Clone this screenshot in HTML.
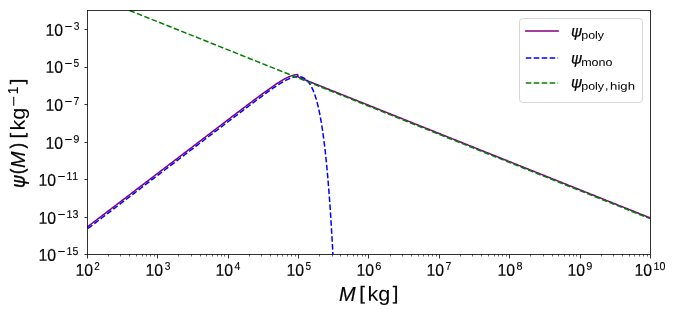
<!DOCTYPE html>
<html><head><meta charset="utf-8"><title>psi(M)</title>
<style>
html,body{margin:0;padding:0;background:#fff;overflow:hidden}
svg{display:block;will-change:transform}
text{font-family:"Liberation Sans",sans-serif;fill:#000;text-rendering:geometricPrecision;font-kerning:none}
</style></head><body>
<svg width="674" height="314" viewBox="0 0 674 314">
<rect width="674" height="314" fill="#fff"/>
<defs><filter id="gs" x="-0.2" y="-0.2" width="1.4" height="1.4"><feOffset dx="0" dy="0"/></filter><clipPath id="ax"><rect x="87.1" y="10.1" width="563.4" height="244.4"/></clipPath></defs>
<g clip-path="url(#ax)" fill="none" stroke-width="1.5" stroke-linejoin="round">
<path d="M86.90,227.27 L87.60,226.73 L88.31,226.20 L89.01,225.66 L89.72,225.12 L90.42,224.59 L91.13,224.05 L91.83,223.51 L92.54,222.98 L93.24,222.44 L93.95,221.90 L94.65,221.36 L95.36,220.83 L96.06,220.29 L96.76,219.75 L97.47,219.22 L98.17,218.68 L98.88,218.14 L99.58,217.61 L100.29,217.07 L100.99,216.53 L101.70,216.00 L102.40,215.46 L103.11,214.92 L103.81,214.38 L104.52,213.85 L105.22,213.31 L105.93,212.77 L106.63,212.24 L107.33,211.70 L108.04,211.16 L108.74,210.63 L109.45,210.09 L110.15,209.55 L110.86,209.02 L111.56,208.48 L112.27,207.94 L112.97,207.40 L113.68,206.87 L114.38,206.33 L115.09,205.79 L115.79,205.26 L116.49,204.72 L117.20,204.18 L117.90,203.65 L118.61,203.11 L119.31,202.57 L120.02,202.04 L120.72,201.50 L121.43,200.96 L122.13,200.42 L122.84,199.89 L123.54,199.35 L124.25,198.81 L124.95,198.28 L125.65,197.74 L126.36,197.20 L127.06,196.67 L127.77,196.13 L128.47,195.59 L129.18,195.05 L129.88,194.52 L130.59,193.98 L131.29,193.44 L132.00,192.91 L132.70,192.37 L133.41,191.83 L134.11,191.30 L134.81,190.76 L135.52,190.22 L136.22,189.69 L136.93,189.15 L137.63,188.61 L138.34,188.07 L139.04,187.54 L139.75,187.00 L140.45,186.46 L141.16,185.93 L141.86,185.39 L142.57,184.85 L143.27,184.32 L143.98,183.78 L144.68,183.24 L145.38,182.71 L146.09,182.17 L146.79,181.63 L147.50,181.09 L148.20,180.56 L148.91,180.02 L149.61,179.48 L150.32,178.95 L151.02,178.41 L151.73,177.87 L152.43,177.34 L153.14,176.80 L153.84,176.26 L154.54,175.73 L155.25,175.19 L155.95,174.65 L156.66,174.11 L157.36,173.58 L158.07,173.04 L158.77,172.50 L159.48,171.97 L160.18,171.43 L160.89,170.89 L161.59,170.36 L162.30,169.82 L163.00,169.28 L163.70,168.75 L164.41,168.21 L165.11,167.67 L165.82,167.13 L166.52,166.60 L167.23,166.06 L167.93,165.52 L168.64,164.99 L169.34,164.45 L170.05,163.91 L170.75,163.38 L171.46,162.84 L172.16,162.30 L172.86,161.76 L173.57,161.23 L174.27,160.69 L174.98,160.15 L175.68,159.62 L176.39,159.08 L177.09,158.54 L177.80,158.01 L178.50,157.47 L179.21,156.93 L179.91,156.40 L180.62,155.86 L181.32,155.32 L182.03,154.78 L182.73,154.25 L183.43,153.71 L184.14,153.17 L184.84,152.64 L185.55,152.10 L186.25,151.56 L186.96,151.03 L187.66,150.49 L188.37,149.95 L189.07,149.42 L189.78,148.88 L190.48,148.34 L191.19,147.80 L191.89,147.27 L192.59,146.73 L193.30,146.19 L194.00,145.66 L194.71,145.12 L195.41,144.58 L196.12,144.05 L196.82,143.51 L197.53,142.97 L198.23,142.44 L198.94,141.90 L199.64,141.36 L200.35,140.83 L201.05,140.29 L201.75,139.75 L202.46,139.21 L203.16,138.68 L203.87,138.14 L204.57,137.60 L205.28,137.07 L205.98,136.53 L206.69,135.99 L207.39,135.46 L208.10,134.92 L208.80,134.38 L209.51,133.85 L210.21,133.31 L210.92,132.77 L211.62,132.24 L212.32,131.70 L213.03,131.16 L213.73,130.63 L214.44,130.09 L215.14,129.55 L215.85,129.02 L216.55,128.48 L217.26,127.94 L217.96,127.41 L218.67,126.87 L219.37,126.33 L220.08,125.80 L220.78,125.26 L221.48,124.72 L222.19,124.19 L222.89,123.65 L223.60,123.11 L224.30,122.58 L225.01,122.04 L225.71,121.50 L226.42,120.97 L227.12,120.43 L227.83,119.90 L228.53,119.36 L229.24,118.82 L229.94,118.29 L230.64,117.75 L231.35,117.22 L232.05,116.68 L232.76,116.14 L233.46,115.61 L234.17,115.07 L234.87,114.54 L235.58,114.00 L236.28,113.47 L236.99,112.93 L237.69,112.40 L238.40,111.86 L239.10,111.33 L239.80,110.79 L240.51,110.26 L241.21,109.72 L241.92,109.19 L242.62,108.65 L243.33,108.12 L244.03,107.59 L244.74,107.05 L245.44,106.52 L246.15,105.99 L246.85,105.45 L247.56,104.92 L248.26,104.39 L248.97,103.86 L249.67,103.33 L250.37,102.80 L251.08,102.27 L251.78,101.74 L252.49,101.21 L253.19,100.68 L253.90,100.15 L254.60,99.62 L255.31,99.09 L256.01,98.57 L256.72,98.04 L257.42,97.52 L258.13,96.99 L258.83,96.47 L259.53,95.95 L260.24,95.42 L260.94,94.90 L261.65,94.38 L262.35,93.86 L263.06,93.35 L263.76,92.83 L264.47,92.32 L265.17,91.80 L265.88,91.29 L266.58,90.78 L267.29,90.28 L267.99,89.77 L268.69,89.27 L269.40,88.77 L270.10,88.27 L270.81,87.77 L271.51,87.28 L272.22,86.79 L272.92,86.30 L273.63,85.82 L274.33,85.34 L275.04,84.86 L275.74,84.39 L276.45,83.92 L277.15,83.46 L277.85,83.00 L278.56,82.55 L279.26,82.10 L279.97,81.66 L280.67,81.22 L281.38,80.80 L282.08,80.38 L282.79,79.96 L283.49,79.56 L284.20,79.17 L284.90,78.78 L285.61,78.41 L286.31,78.05 L287.02,77.69 L287.72,77.36 L288.42,77.03 L289.13,76.72 L289.83,76.42 L290.54,76.15 L291.24,75.88 L291.95,75.64 L292.65,75.42 L293.36,75.22 L294.06,75.04 L294.77,74.89 L295.47,74.76 L296.18,74.66 L296.88,74.59 L297.58,74.55 L298.29,77.13 L298.99,77.41 L299.70,77.69 L300.40,77.98 L301.11,78.26 L301.81,78.54 L302.52,78.82 L303.22,79.10 L303.93,79.39 L304.63,79.67 L305.34,79.95 L306.04,80.23 L306.74,80.51 L307.45,80.79 L308.15,81.08 L308.86,81.36 L309.56,81.64 L310.27,81.92 L310.97,82.20 L311.68,82.49 L312.38,82.77 L313.09,83.05 L313.79,83.33 L314.50,83.61 L315.20,83.90 L315.91,84.18 L316.61,84.46 L317.31,84.74 L318.02,85.02 L318.72,85.31 L319.43,85.59 L320.13,85.87 L320.84,86.15 L321.54,86.43 L322.25,86.71 L322.95,87.00 L323.66,87.28 L324.36,87.56 L325.07,87.84 L325.77,88.12 L326.47,88.41 L327.18,88.69 L327.88,88.97 L328.59,89.25 L329.29,89.53 L330.00,89.82 L330.70,90.10 L331.41,90.38 L332.11,90.66 L332.82,90.94 L333.52,91.22 L334.23,91.51 L334.93,91.79 L335.63,92.07 L336.34,92.35 L337.04,92.63 L337.75,92.92 L338.45,93.20 L339.16,93.48 L339.86,93.76 L340.57,94.04 L341.27,94.33 L341.98,94.61 L342.68,94.89 L343.39,95.17 L344.09,95.45 L344.79,95.74 L345.50,96.02 L346.20,96.30 L346.91,96.58 L347.61,96.86 L348.32,97.14 L349.02,97.43 L349.73,97.71 L350.43,97.99 L351.14,98.27 L351.84,98.55 L352.55,98.84 L353.25,99.12 L353.96,99.40 L354.66,99.68 L355.36,99.96 L356.07,100.25 L356.77,100.53 L357.48,100.81 L358.18,101.09 L358.89,101.37 L359.59,101.65 L360.30,101.94 L361.00,102.22 L361.71,102.50 L362.41,102.78 L363.12,103.06 L363.82,103.35 L364.52,103.63 L365.23,103.91 L365.93,104.19 L366.64,104.47 L367.34,104.76 L368.05,105.04 L368.75,105.32 L369.46,105.60 L370.16,105.88 L370.87,106.17 L371.57,106.45 L372.28,106.73 L372.98,107.01 L373.68,107.29 L374.39,107.57 L375.09,107.86 L375.80,108.14 L376.50,108.42 L377.21,108.70 L377.91,108.98 L378.62,109.27 L379.32,109.55 L380.03,109.83 L380.73,110.11 L381.44,110.39 L382.14,110.68 L382.84,110.96 L383.55,111.24 L384.25,111.52 L384.96,111.80 L385.66,112.08 L386.37,112.37 L387.07,112.65 L387.78,112.93 L388.48,113.21 L389.19,113.49 L389.89,113.78 L390.60,114.06 L391.30,114.34 L392.01,114.62 L392.71,114.90 L393.41,115.19 L394.12,115.47 L394.82,115.75 L395.53,116.03 L396.23,116.31 L396.94,116.60 L397.64,116.88 L398.35,117.16 L399.05,117.44 L399.76,117.72 L400.46,118.00 L401.17,118.29 L401.87,118.57 L402.57,118.85 L403.28,119.13 L403.98,119.41 L404.69,119.70 L405.39,119.98 L406.10,120.26 L406.80,120.54 L407.51,120.82 L408.21,121.11 L408.92,121.39 L409.62,121.67 L410.33,121.95 L411.03,122.23 L411.73,122.51 L412.44,122.80 L413.14,123.08 L413.85,123.36 L414.55,123.64 L415.26,123.92 L415.96,124.21 L416.67,124.49 L417.37,124.77 L418.08,125.05 L418.78,125.33 L419.49,125.62 L420.19,125.90 L420.89,126.18 L421.60,126.46 L422.30,126.74 L423.01,127.03 L423.71,127.31 L424.42,127.59 L425.12,127.87 L425.83,128.15 L426.53,128.43 L427.24,128.72 L427.94,129.00 L428.65,129.28 L429.35,129.56 L430.06,129.84 L430.76,130.13 L431.46,130.41 L432.17,130.69 L432.87,130.97 L433.58,131.25 L434.28,131.54 L434.99,131.82 L435.69,132.10 L436.40,132.38 L437.10,132.66 L437.81,132.94 L438.51,133.23 L439.22,133.51 L439.92,133.79 L440.62,134.07 L441.33,134.35 L442.03,134.64 L442.74,134.92 L443.44,135.20 L444.15,135.48 L444.85,135.76 L445.56,136.05 L446.26,136.33 L446.97,136.61 L447.67,136.89 L448.38,137.17 L449.08,137.45 L449.78,137.74 L450.49,138.02 L451.19,138.30 L451.90,138.58 L452.60,138.86 L453.31,139.15 L454.01,139.43 L454.72,139.71 L455.42,139.99 L456.13,140.27 L456.83,140.56 L457.54,140.84 L458.24,141.12 L458.95,141.40 L459.65,141.68 L460.35,141.97 L461.06,142.25 L461.76,142.53 L462.47,142.81 L463.17,143.09 L463.88,143.37 L464.58,143.66 L465.29,143.94 L465.99,144.22 L466.70,144.50 L467.40,144.78 L468.11,145.07 L468.81,145.35 L469.51,145.63 L470.22,145.91 L470.92,146.19 L471.63,146.48 L472.33,146.76 L473.04,147.04 L473.74,147.32 L474.45,147.60 L475.15,147.88 L475.86,148.17 L476.56,148.45 L477.27,148.73 L477.97,149.01 L478.67,149.29 L479.38,149.58 L480.08,149.86 L480.79,150.14 L481.49,150.42 L482.20,150.70 L482.90,150.99 L483.61,151.27 L484.31,151.55 L485.02,151.83 L485.72,152.11 L486.43,152.40 L487.13,152.68 L487.83,152.96 L488.54,153.24 L489.24,153.52 L489.95,153.80 L490.65,154.09 L491.36,154.37 L492.06,154.65 L492.77,154.93 L493.47,155.21 L494.18,155.50 L494.88,155.78 L495.59,156.06 L496.29,156.34 L497.00,156.62 L497.70,156.91 L498.40,157.19 L499.11,157.47 L499.81,157.75 L500.52,158.03 L501.22,158.31 L501.93,158.60 L502.63,158.88 L503.34,159.16 L504.04,159.44 L504.75,159.72 L505.45,160.01 L506.16,160.29 L506.86,160.57 L507.56,160.85 L508.27,161.13 L508.97,161.42 L509.68,161.70 L510.38,161.98 L511.09,162.26 L511.79,162.54 L512.50,162.83 L513.20,163.11 L513.91,163.39 L514.61,163.67 L515.32,163.95 L516.02,164.23 L516.72,164.52 L517.43,164.80 L518.13,165.08 L518.84,165.36 L519.54,165.64 L520.25,165.93 L520.95,166.21 L521.66,166.49 L522.36,166.77 L523.07,167.05 L523.77,167.34 L524.48,167.62 L525.18,167.90 L525.88,168.18 L526.59,168.46 L527.29,168.74 L528.00,169.03 L528.70,169.31 L529.41,169.59 L530.11,169.87 L530.82,170.15 L531.52,170.44 L532.23,170.72 L532.93,171.00 L533.64,171.28 L534.34,171.56 L535.05,171.85 L535.75,172.13 L536.45,172.41 L537.16,172.69 L537.86,172.97 L538.57,173.26 L539.27,173.54 L539.98,173.82 L540.68,174.10 L541.39,174.38 L542.09,174.66 L542.80,174.95 L543.50,175.23 L544.21,175.51 L544.91,175.79 L545.61,176.07 L546.32,176.36 L547.02,176.64 L547.73,176.92 L548.43,177.20 L549.14,177.48 L549.84,177.77 L550.55,178.05 L551.25,178.33 L551.96,178.61 L552.66,178.89 L553.37,179.17 L554.07,179.46 L554.77,179.74 L555.48,180.02 L556.18,180.30 L556.89,180.58 L557.59,180.87 L558.30,181.15 L559.00,181.43 L559.71,181.71 L560.41,181.99 L561.12,182.28 L561.82,182.56 L562.53,182.84 L563.23,183.12 L563.94,183.40 L564.64,183.69 L565.34,183.97 L566.05,184.25 L566.75,184.53 L567.46,184.81 L568.16,185.09 L568.87,185.38 L569.57,185.66 L570.28,185.94 L570.98,186.22 L571.69,186.50 L572.39,186.79 L573.10,187.07 L573.80,187.35 L574.50,187.63 L575.21,187.91 L575.91,188.20 L576.62,188.48 L577.32,188.76 L578.03,189.04 L578.73,189.32 L579.44,189.60 L580.14,189.89 L580.85,190.17 L581.55,190.45 L582.26,190.73 L582.96,191.01 L583.66,191.30 L584.37,191.58 L585.07,191.86 L585.78,192.14 L586.48,192.42 L587.19,192.71 L587.89,192.99 L588.60,193.27 L589.30,193.55 L590.01,193.83 L590.71,194.12 L591.42,194.40 L592.12,194.68 L592.82,194.96 L593.53,195.24 L594.23,195.52 L594.94,195.81 L595.64,196.09 L596.35,196.37 L597.05,196.65 L597.76,196.93 L598.46,197.22 L599.17,197.50 L599.87,197.78 L600.58,198.06 L601.28,198.34 L601.99,198.63 L602.69,198.91 L603.39,199.19 L604.10,199.47 L604.80,199.75 L605.51,200.03 L606.21,200.32 L606.92,200.60 L607.62,200.88 L608.33,201.16 L609.03,201.44 L609.74,201.73 L610.44,202.01 L611.15,202.29 L611.85,202.57 L612.55,202.85 L613.26,203.14 L613.96,203.42 L614.67,203.70 L615.37,203.98 L616.08,204.26 L616.78,204.54 L617.49,204.83 L618.19,205.11 L618.90,205.39 L619.60,205.67 L620.31,205.95 L621.01,206.24 L621.71,206.52 L622.42,206.80 L623.12,207.08 L623.83,207.36 L624.53,207.65 L625.24,207.93 L625.94,208.21 L626.65,208.49 L627.35,208.77 L628.06,209.06 L628.76,209.34 L629.47,209.62 L630.17,209.90 L630.87,210.18 L631.58,210.46 L632.28,210.75 L632.99,211.03 L633.69,211.31 L634.40,211.59 L635.10,211.87 L635.81,212.16 L636.51,212.44 L637.22,212.72 L637.92,213.00 L638.63,213.28 L639.33,213.57 L640.04,213.85 L640.74,214.13 L641.44,214.41 L642.15,214.69 L642.85,214.97 L643.56,215.26 L644.26,215.54 L644.97,215.82 L645.67,216.10 L646.38,216.38 L647.08,216.67 L647.79,216.95 L648.49,217.23 L649.20,217.51 L649.90,217.79" stroke="#800080" stroke-linecap="square"/>
<path d="M86.90,229.28 L87.25,229.01 L87.60,228.74 L87.96,228.47 L88.31,228.21 L88.66,227.94 L89.01,227.67 L89.36,227.40 L89.72,227.13 L90.07,226.87 L90.42,226.60 L90.77,226.33 L91.12,226.06 L91.47,225.79 L91.83,225.53 L92.18,225.26 L92.53,224.99 L92.88,224.72 L93.23,224.45 L93.59,224.18 L93.94,223.92 L94.29,223.65 L94.64,223.38 L94.99,223.11 L95.35,222.84 L95.70,222.58 L96.05,222.31 L96.40,222.04 L96.75,221.77 L97.10,221.50 L97.46,221.24 L97.81,220.97 L98.16,220.70 L98.51,220.43 L98.86,220.16 L99.22,219.89 L99.57,219.63 L99.92,219.36 L100.27,219.09 L100.62,218.82 L100.98,218.55 L101.33,218.29 L101.68,218.02 L102.03,217.75 L102.38,217.48 L102.73,217.21 L103.09,216.95 L103.44,216.68 L103.79,216.41 L104.14,216.14 L104.49,215.87 L104.85,215.60 L105.20,215.34 L105.55,215.07 L105.90,214.80 L106.25,214.53 L106.61,214.26 L106.96,214.00 L107.31,213.73 L107.66,213.46 L108.01,213.19 L108.36,212.92 L108.72,212.66 L109.07,212.39 L109.42,212.12 L109.77,211.85 L110.12,211.58 L110.48,211.31 L110.83,211.05 L111.18,210.78 L111.53,210.51 L111.88,210.24 L112.23,209.97 L112.59,209.71 L112.94,209.44 L113.29,209.17 L113.64,208.90 L113.99,208.63 L114.35,208.36 L114.70,208.10 L115.05,207.83 L115.40,207.56 L115.75,207.29 L116.11,207.02 L116.46,206.76 L116.81,206.49 L117.16,206.22 L117.51,205.95 L117.87,205.68 L118.22,205.42 L118.57,205.15 L118.92,204.88 L119.27,204.61 L119.62,204.34 L119.98,204.07 L120.33,203.81 L120.68,203.54 L121.03,203.27 L121.38,203.00 L121.74,202.73 L122.09,202.47 L122.44,202.20 L122.79,201.93 L123.14,201.66 L123.50,201.39 L123.85,201.13 L124.20,200.86 L124.55,200.59 L124.90,200.32 L125.25,200.05 L125.61,199.78 L125.96,199.52 L126.31,199.25 L126.66,198.98 L127.01,198.71 L127.37,198.44 L127.72,198.18 L128.07,197.91 L128.42,197.64 L128.77,197.37 L129.12,197.10 L129.48,196.84 L129.83,196.57 L130.18,196.30 L130.53,196.03 L130.88,195.76 L131.24,195.49 L131.59,195.23 L131.94,194.96 L132.29,194.69 L132.64,194.42 L133.00,194.15 L133.35,193.89 L133.70,193.62 L134.05,193.35 L134.40,193.08 L134.76,192.81 L135.11,192.55 L135.46,192.28 L135.81,192.01 L136.16,191.74 L136.51,191.47 L136.87,191.20 L137.22,190.94 L137.57,190.67 L137.92,190.40 L138.27,190.13 L138.63,189.86 L138.98,189.60 L139.33,189.33 L139.68,189.06 L140.03,188.79 L140.38,188.52 L140.74,188.26 L141.09,187.99 L141.44,187.72 L141.79,187.45 L142.14,187.18 L142.50,186.91 L142.85,186.65 L143.20,186.38 L143.55,186.11 L143.90,185.84 L144.26,185.57 L144.61,185.31 L144.96,185.04 L145.31,184.77 L145.66,184.50 L146.01,184.23 L146.37,183.96 L146.72,183.70 L147.07,183.43 L147.42,183.16 L147.77,182.89 L148.13,182.62 L148.48,182.36 L148.83,182.09 L149.18,181.82 L149.53,181.55 L149.89,181.28 L150.24,181.02 L150.59,180.75 L150.94,180.48 L151.29,180.21 L151.64,179.94 L152.00,179.67 L152.35,179.41 L152.70,179.14 L153.05,178.87 L153.40,178.60 L153.76,178.33 L154.11,178.07 L154.46,177.80 L154.81,177.53 L155.16,177.26 L155.52,176.99 L155.87,176.73 L156.22,176.46 L156.57,176.19 L156.92,175.92 L157.28,175.65 L157.63,175.38 L157.98,175.12 L158.33,174.85 L158.68,174.58 L159.03,174.31 L159.39,174.04 L159.74,173.78 L160.09,173.51 L160.44,173.24 L160.79,172.97 L161.15,172.70 L161.50,172.44 L161.85,172.17 L162.20,171.90 L162.55,171.63 L162.91,171.36 L163.26,171.09 L163.61,170.83 L163.96,170.56 L164.31,170.29 L164.66,170.02 L165.02,169.75 L165.37,169.49 L165.72,169.22 L166.07,168.95 L166.42,168.68 L166.78,168.41 L167.13,168.15 L167.48,167.88 L167.83,167.61 L168.18,167.34 L168.54,167.07 L168.89,166.80 L169.24,166.54 L169.59,166.27 L169.94,166.00 L170.29,165.73 L170.65,165.46 L171.00,165.20 L171.35,164.93 L171.70,164.66 L172.05,164.39 L172.41,164.12 L172.76,163.86 L173.11,163.59 L173.46,163.32 L173.81,163.05 L174.17,162.78 L174.52,162.51 L174.87,162.25 L175.22,161.98 L175.57,161.71 L175.92,161.44 L176.28,161.17 L176.63,160.91 L176.98,160.64 L177.33,160.37 L177.68,160.10 L178.04,159.83 L178.39,159.57 L178.74,159.30 L179.09,159.03 L179.44,158.76 L179.80,158.49 L180.15,158.22 L180.50,157.96 L180.85,157.69 L181.20,157.42 L181.55,157.15 L181.91,156.88 L182.26,156.62 L182.61,156.35 L182.96,156.08 L183.31,155.81 L183.67,155.54 L184.02,155.28 L184.37,155.01 L184.72,154.74 L185.07,154.47 L185.43,154.20 L185.78,153.93 L186.13,153.67 L186.48,153.40 L186.83,153.13 L187.18,152.86 L187.54,152.59 L187.89,152.33 L188.24,152.06 L188.59,151.79 L188.94,151.52 L189.30,151.25 L189.65,150.99 L190.00,150.72 L190.35,150.45 L190.70,150.18 L191.06,149.91 L191.41,149.64 L191.76,149.38 L192.11,149.11 L192.46,148.84 L192.81,148.57 L193.17,148.30 L193.52,148.04 L193.87,147.77 L194.22,147.50 L194.57,147.23 L194.93,146.96 L195.28,146.70 L195.63,146.43 L195.98,146.16 L196.33,145.89 L196.69,145.62 L197.04,145.35 L197.39,145.09 L197.74,144.82 L198.09,144.55 L198.44,144.28 L198.80,144.01 L199.15,143.75 L199.50,143.48 L199.85,143.21 L200.20,142.94 L200.56,142.67 L200.91,142.41 L201.26,142.14 L201.61,141.87 L201.96,141.60 L202.31,141.33 L202.67,141.06 L203.02,140.80 L203.37,140.53 L203.72,140.26 L204.07,139.99 L204.43,139.72 L204.78,139.46 L205.13,139.19 L205.48,138.92 L205.83,138.65 L206.19,138.38 L206.54,138.12 L206.89,137.85 L207.24,137.58 L207.59,137.31 L207.94,137.04 L208.30,136.78 L208.65,136.51 L209.00,136.24 L209.35,135.97 L209.70,135.70 L210.06,135.44 L210.41,135.17 L210.76,134.90 L211.11,134.63 L211.46,134.36 L211.82,134.10 L212.17,133.83 L212.52,133.56 L212.87,133.29 L213.22,133.02 L213.57,132.75 L213.93,132.49 L214.28,132.22 L214.63,131.95 L214.98,131.68 L215.33,131.41 L215.69,131.15 L216.04,130.88 L216.39,130.61 L216.74,130.34 L217.09,130.07 L217.45,129.81 L217.80,129.54 L218.15,129.27 L218.50,129.00 L218.85,128.73 L219.20,128.47 L219.56,128.20 L219.91,127.93 L220.26,127.66 L220.61,127.40 L220.96,127.13 L221.32,126.86 L221.67,126.59 L222.02,126.32 L222.37,126.06 L222.72,125.79 L223.08,125.52 L223.43,125.25 L223.78,124.98 L224.13,124.72 L224.48,124.45 L224.84,124.18 L225.19,123.91 L225.54,123.64 L225.89,123.38 L226.24,123.11 L226.59,122.84 L226.95,122.57 L227.30,122.31 L227.65,122.04 L228.00,121.77 L228.35,121.50 L228.71,121.23 L229.06,120.97 L229.41,120.70 L229.76,120.43 L230.11,120.16 L230.47,119.90 L230.82,119.63 L231.17,119.36 L231.52,119.09 L231.87,118.83 L232.22,118.56 L232.58,118.29 L232.93,118.02 L233.28,117.76 L233.63,117.49 L233.98,117.22 L234.34,116.95 L234.69,116.69 L235.04,116.42 L235.39,116.15 L235.74,115.88 L236.10,115.62 L236.45,115.35 L236.80,115.08 L237.15,114.81 L237.50,114.55 L237.85,114.28 L238.21,114.01 L238.56,113.75 L238.91,113.48 L239.26,113.21 L239.61,112.94 L239.97,112.68 L240.32,112.41 L240.67,112.14 L241.02,111.88 L241.37,111.61 L241.73,111.34 L242.08,111.08 L242.43,110.81 L242.78,110.54 L243.13,110.28 L243.48,110.01 L243.84,109.74 L244.19,109.48 L244.54,109.21 L244.89,108.94 L245.24,108.68 L245.60,108.41 L245.95,108.15 L246.30,107.88 L246.65,107.61 L247.00,107.35 L247.36,107.08 L247.71,106.82 L248.06,106.55 L248.41,106.29 L248.76,106.02 L249.11,105.75 L249.47,105.49 L249.82,105.22 L250.17,104.96 L250.52,104.69 L250.87,104.43 L251.23,104.16 L251.58,103.90 L251.93,103.64 L252.28,103.37 L252.63,103.11 L252.98,102.84 L253.34,102.58 L253.69,102.31 L254.04,102.05 L254.39,101.79 L254.74,101.52 L255.10,101.26 L255.45,101.00 L255.80,100.73 L256.15,100.47 L256.50,100.21 L256.86,99.95 L257.21,99.68 L257.56,99.42 L257.91,99.16 L258.26,98.90 L258.62,98.64 L258.97,98.37 L259.32,98.11 L259.67,97.85 L260.02,97.59 L260.37,97.33 L260.73,97.07 L261.08,96.81 L261.43,96.55 L261.78,96.29 L262.13,96.03 L262.49,95.78 L262.84,95.52 L263.19,95.26 L263.54,95.00 L263.89,94.74 L264.25,94.49 L264.60,94.23 L264.95,93.97 L265.30,93.72 L265.65,93.46 L266.00,93.21 L266.36,92.95 L266.71,92.70 L267.06,92.45 L267.41,92.19 L267.76,91.94 L268.12,91.69 L268.47,91.44 L268.82,91.19 L269.17,90.94 L269.52,90.69 L269.88,90.44 L270.23,90.19 L270.58,89.94 L270.93,89.69 L271.28,89.45 L271.63,89.20 L271.99,88.96 L272.34,88.71 L272.69,88.47 L273.04,88.23 L273.39,87.98 L273.75,87.74 L274.10,87.50 L274.45,87.26 L274.80,87.03 L275.15,86.79 L275.50,86.55 L275.86,86.32 L276.21,86.08 L276.56,85.85 L276.91,85.62 L277.26,85.39 L277.62,85.16 L277.97,84.93 L278.32,84.71 L278.67,84.48 L279.02,84.26 L279.38,84.04 L279.73,83.82 L280.08,83.60 L280.43,83.38 L280.78,83.17 L281.13,82.95 L281.49,82.74 L281.84,82.53 L282.19,82.32 L282.54,82.12 L282.89,81.91 L283.25,81.71 L283.60,81.51 L283.95,81.31 L284.30,81.12 L284.65,80.92 L285.01,80.73 L285.36,80.55 L285.71,80.36 L286.06,80.18 L286.41,80.00 L286.76,79.83 L287.12,79.65 L287.47,79.48 L287.82,79.32 L288.17,79.15 L288.52,78.99 L288.88,78.84 L289.23,78.69 L289.58,78.54 L289.93,78.39 L290.28,78.25 L290.64,78.12 L290.99,77.98 L291.34,77.86 L291.69,77.74 L292.04,77.62 L292.39,77.51 L292.75,77.40 L293.10,77.30 L293.45,77.20 L293.80,77.11 L294.15,77.03 L294.51,76.95 L294.86,76.88 L295.21,76.81 L295.56,76.75 L295.91,76.70 L296.27,76.66 L296.62,76.62 L296.97,76.59 L297.32,76.57 L297.67,76.56 L298.02,76.55 L298.38,76.56 L298.73,76.57 L299.08,76.59 L299.43,76.63 L299.78,76.67 L300.14,76.72 L300.49,76.79 L300.84,76.86 L301.19,76.95 L301.54,77.05 L301.90,77.16 L302.25,77.28 L302.60,77.42 L302.95,77.57 L303.30,77.73 L303.65,77.91 L304.01,78.10 L304.36,78.31 L304.71,78.53 L305.06,78.78 L305.41,79.03 L305.77,79.31 L306.12,79.60 L306.47,79.92 L306.82,80.25 L307.17,80.60 L307.53,80.97 L307.88,81.37 L308.23,81.78 L308.58,82.22 L308.93,82.69 L309.29,83.17 L309.64,83.69 L309.99,84.23 L310.34,84.79 L310.69,85.39 L311.04,86.01 L311.40,86.66 L311.75,87.34 L312.10,88.06 L312.45,88.81 L312.80,89.59 L313.16,90.41 L313.51,91.26 L313.86,92.15 L314.21,93.08 L314.56,94.05 L314.92,95.06 L315.27,96.12 L315.62,97.21 L315.97,98.36 L316.32,99.55 L316.67,100.79 L317.03,102.08 L317.38,103.42 L317.73,104.82 L318.08,106.27 L318.43,107.78 L318.79,109.35 L319.14,110.98 L319.49,112.67 L319.84,114.43 L320.19,116.26 L320.55,118.15 L320.90,120.12 L321.25,122.17 L321.60,124.29 L321.95,126.49 L322.30,128.78 L322.66,131.14 L323.01,133.60 L323.36,136.15 L323.71,138.79 L324.06,141.53 L324.42,144.38 L324.77,147.32 L325.12,150.37 L325.47,153.54 L325.82,156.82 L326.18,160.21 L326.53,163.73 L326.88,167.38 L327.23,171.16 L327.58,175.07 L327.93,179.12 L328.29,183.32 L328.64,187.66 L328.99,192.16 L329.34,196.82 L329.69,201.65 L330.05,206.64 L330.40,211.81 L330.75,217.16 L331.10,222.71 L331.45,228.44 L331.81,234.38 L332.16,240.52 L332.51,246.88 L332.86,253.46 L333.21,260.26" stroke="#0000ff" stroke-dasharray="5.55 2.4" stroke-dashoffset="-1.4"/>
<path d="M129.13,10.30 L649.90,218.64" stroke="#008000" stroke-dasharray="5.55 2.4" stroke-dashoffset="-0.45"/>
</g>
<g stroke="#000" fill="none">
<rect x="87.5" y="10.5" width="563" height="244" stroke-width="0.8"/>
<path d="M87.5,254.5v4M157.5,254.5v4M228.5,254.5v4M298.5,254.5v4M368.5,254.5v4M439.5,254.5v4M509.5,254.5v4M580.5,254.5v4M650.5,254.5v4M87.5,29.5h-3M87.5,67.5h-3M87.5,104.5h-3M87.5,142.5h-3M87.5,179.5h-3M87.5,217.5h-3M87.5,254.5h-3" stroke-width="0.8"/>
<path d="M108.5,254.5v2M120.5,254.5v2M129.5,254.5v2M136.5,254.5v2M142.5,254.5v2M146.5,254.5v2M150.5,254.5v2M154.5,254.5v2M178.5,254.5v2M191.5,254.5v2M200.5,254.5v2M206.5,254.5v2M212.5,254.5v2M217.5,254.5v2M221.5,254.5v2M224.5,254.5v2M249.5,254.5v2M261.5,254.5v2M270.5,254.5v2M277.5,254.5v2M282.5,254.5v2M287.5,254.5v2M291.5,254.5v2M295.5,254.5v2M319.5,254.5v2M332.5,254.5v2M340.5,254.5v2M347.5,254.5v2M353.5,254.5v2M357.5,254.5v2M362.5,254.5v2M365.5,254.5v2M390.5,254.5v2M402.5,254.5v2M411.5,254.5v2M418.5,254.5v2M423.5,254.5v2M428.5,254.5v2M432.5,254.5v2M436.5,254.5v2M460.5,254.5v2M472.5,254.5v2M481.5,254.5v2M488.5,254.5v2M494.5,254.5v2M498.5,254.5v2M502.5,254.5v2M506.5,254.5v2M530.5,254.5v2M543.5,254.5v2M552.5,254.5v2M558.5,254.5v2M564.5,254.5v2M569.5,254.5v2M573.5,254.5v2M576.5,254.5v2M601.5,254.5v2M613.5,254.5v2M622.5,254.5v2M629.5,254.5v2M634.5,254.5v2M639.5,254.5v2M643.5,254.5v2M647.5,254.5v2" stroke-width="0.6"/>
</g>
<g filter="url(#gs)">
<text transform="matrix(1.5816 0.0006 0 1.6949 45.575 35.834)" font-size="10" stroke="#000" stroke-width="0.1" vector-effect="non-scaling-stroke">10</text>
<text transform="matrix(1.3605 0.0006 0 1.2905 64.449 30.791)" font-size="10">−</text>
<text transform="matrix(1.0229 0.0006 0 1.1003 73.660 29.793)" font-size="10" stroke="#000" stroke-width="0.1" vector-effect="non-scaling-stroke">3</text>
<text transform="matrix(1.5816 0.0006 0 1.6949 45.575 72.834)" font-size="10" stroke="#000" stroke-width="0.1" vector-effect="non-scaling-stroke">10</text>
<text transform="matrix(1.3605 0.0006 0 1.2905 64.449 67.791)" font-size="10">−</text>
<text transform="matrix(1.0124 0.0006 0 1.1222 73.585 66.790)" font-size="10" stroke="#000" stroke-width="0.1" vector-effect="non-scaling-stroke">5</text>
<text transform="matrix(1.5816 0.0006 0 1.6949 45.575 110.834)" font-size="10" stroke="#000" stroke-width="0.1" vector-effect="non-scaling-stroke">10</text>
<text transform="matrix(1.3605 0.0006 0 1.2905 64.449 105.791)" font-size="10">−</text>
<text transform="matrix(1.0427 0.0006 0 1.1483 73.495 104.950)" font-size="10" stroke="#000" stroke-width="0.1" vector-effect="non-scaling-stroke">7</text>
<text transform="matrix(1.5816 0.0006 0 1.6949 45.575 148.834)" font-size="10" stroke="#000" stroke-width="0.1" vector-effect="non-scaling-stroke">10</text>
<text transform="matrix(1.3605 0.0006 0 1.2905 64.449 143.791)" font-size="10">−</text>
<text transform="matrix(1.1019 0.0006 0 1.1031 73.283 142.802)" font-size="10" stroke="#000" stroke-width="0.1" vector-effect="non-scaling-stroke">9</text>
<text transform="matrix(1.5816 0.0006 0 1.6949 38.575 185.834)" font-size="10" stroke="#000" stroke-width="0.1" vector-effect="non-scaling-stroke">10</text>
<text transform="matrix(1.3605 0.0006 0 1.2905 57.449 180.791)" font-size="10">−</text>
<text transform="matrix(1.0493 0.0006 0 1.1628 66.521 180.000)" font-size="10" stroke="#000" stroke-width="0.1" vector-effect="non-scaling-stroke">11</text>
<text transform="matrix(1.5816 0.0006 0 1.6949 38.575 223.834)" font-size="10" stroke="#000" stroke-width="0.1" vector-effect="non-scaling-stroke">10</text>
<text transform="matrix(1.3605 0.0006 0 1.2905 57.449 218.791)" font-size="10">−</text>
<text transform="matrix(1.0663 0.0006 0 1.1299 66.508 217.890)" font-size="10" stroke="#000" stroke-width="0.1" vector-effect="non-scaling-stroke">13</text>
<text transform="matrix(1.5816 0.0006 0 1.6949 38.575 260.834)" font-size="10" stroke="#000" stroke-width="0.1" vector-effect="non-scaling-stroke">10</text>
<text transform="matrix(1.3605 0.0006 0 1.2905 57.449 255.791)" font-size="10">−</text>
<text transform="matrix(1.0532 0.0006 0 1.1465 66.518 254.888)" font-size="10" stroke="#000" stroke-width="0.1" vector-effect="non-scaling-stroke">15</text>
<text transform="matrix(1.5816 0.0006 0 1.6949 75.575 275.834)" font-size="10" stroke="#000" stroke-width="0.1" vector-effect="non-scaling-stroke">10</text>
<text transform="matrix(0.9922 0.0006 0 1.1328 94.351 270.000)" font-size="10" stroke="#000" stroke-width="0.1" vector-effect="non-scaling-stroke">2</text>
<text transform="matrix(1.5816 0.0006 0 1.6949 145.575 275.834)" font-size="10" stroke="#000" stroke-width="0.1" vector-effect="non-scaling-stroke">10</text>
<text transform="matrix(1.0229 0.0006 0 1.1003 164.660 269.793)" font-size="10" stroke="#000" stroke-width="0.1" vector-effect="non-scaling-stroke">3</text>
<text transform="matrix(1.5816 0.0006 0 1.6949 215.575 275.834)" font-size="10" stroke="#000" stroke-width="0.1" vector-effect="non-scaling-stroke">10</text>
<text transform="matrix(1.0518 0.0006 0 1.1628 234.439 270.000)" font-size="10" stroke="#000" stroke-width="0.1" vector-effect="non-scaling-stroke">4</text>
<text transform="matrix(1.5816 0.0006 0 1.6949 286.575 275.834)" font-size="10" stroke="#000" stroke-width="0.1" vector-effect="non-scaling-stroke">10</text>
<text transform="matrix(1.0124 0.0006 0 1.1222 305.585 269.790)" font-size="10" stroke="#000" stroke-width="0.1" vector-effect="non-scaling-stroke">5</text>
<text transform="matrix(1.5816 0.0006 0 1.6949 356.575 275.834)" font-size="10" stroke="#000" stroke-width="0.1" vector-effect="non-scaling-stroke">10</text>
<text transform="matrix(1.1053 0.0006 0 1.1017 375.319 269.782)" font-size="10" stroke="#000" stroke-width="0.1" vector-effect="non-scaling-stroke">6</text>
<text transform="matrix(1.5816 0.0006 0 1.6949 426.575 275.834)" font-size="10" stroke="#000" stroke-width="0.1" vector-effect="non-scaling-stroke">10</text>
<text transform="matrix(1.0427 0.0006 0 1.1483 445.495 269.950)" font-size="10" stroke="#000" stroke-width="0.1" vector-effect="non-scaling-stroke">7</text>
<text transform="matrix(1.5816 0.0006 0 1.6949 497.575 275.834)" font-size="10" stroke="#000" stroke-width="0.1" vector-effect="non-scaling-stroke">10</text>
<text transform="matrix(1.0805 0.0006 0 1.1003 516.440 269.793)" font-size="10" stroke="#000" stroke-width="0.1" vector-effect="non-scaling-stroke">8</text>
<text transform="matrix(1.5816 0.0006 0 1.6949 567.575 275.834)" font-size="10" stroke="#000" stroke-width="0.1" vector-effect="non-scaling-stroke">10</text>
<text transform="matrix(1.1019 0.0006 0 1.1031 586.283 269.802)" font-size="10" stroke="#000" stroke-width="0.1" vector-effect="non-scaling-stroke">9</text>
<text transform="matrix(1.5816 0.0006 0 1.6949 634.575 275.834)" font-size="10" stroke="#000" stroke-width="0.1" vector-effect="non-scaling-stroke">10</text>
<text transform="matrix(1.0691 0.0006 0 1.1299 653.506 269.890)" font-size="10" stroke="#000" stroke-width="0.1" vector-effect="non-scaling-stroke">10</text>
<text transform="matrix(1.9919 0.0006 0 2.0349 339.097 301.000)" font-size="10" font-style="italic" stroke="#000" stroke-width="0.1" vector-effect="non-scaling-stroke">M</text>
<text transform="matrix(2.0530 0.0006 0 1.8774 359.366 299.604)" font-size="10" stroke="#000" stroke-width="0.1" vector-effect="non-scaling-stroke">[</text>
<text transform="matrix(2.1638 0.0006 0 2.0373 367.472 300.762)" font-size="10">kg</text>
<text transform="matrix(2.0329 0.0006 0 1.8774 392.801 299.604)" font-size="10" stroke="#000" stroke-width="0.1" vector-effect="non-scaling-stroke">]</text>
</g>
<g transform="rotate(-90)" filter="url(#gs)">
<clipPath id="cp1"><rect x="-189.86" y="14.00" width="17.69" height="17.79"/></clipPath><g clip-path="url(#cp1)"><text transform="matrix(1.8096 0.0006 0 2.0099 -187.903 24.619)" font-size="10" font-style="italic" stroke="#000" stroke-width="0.22" vector-effect="non-scaling-stroke">ψ</text></g>
<text transform="matrix(1.5501 0.0006 0 1.8698 -174.101 23.599)" font-size="10" stroke="#000" stroke-width="0.32" vector-effect="non-scaling-stroke">(</text>
<text transform="matrix(1.9907 0.0006 0 2.0349 -167.902 25.000)" font-size="10" font-style="italic" stroke="#000" stroke-width="0.1" vector-effect="non-scaling-stroke">M</text>
<text transform="matrix(1.5501 0.0006 0 1.8773 -148.211 23.603)" font-size="10" stroke="#000" stroke-width="0.32" vector-effect="non-scaling-stroke">)</text>
<text transform="matrix(2.0430 0.0006 0 1.8763 -138.616 23.596)" font-size="10" stroke="#000" stroke-width="0.1" vector-effect="non-scaling-stroke">[</text>
<text transform="matrix(2.1638 0.0006 0 2.0362 -130.528 24.754)" font-size="10">kg</text>
<text transform="matrix(1.7887 0.0006 0 1.5290 -106.412 18.629)" font-size="10" stroke="#000" stroke-width="0.1" vector-effect="non-scaling-stroke">−</text>
<text transform="matrix(1.3661 0.0006 0 1.4535 -94.241 18.000)" font-size="10" stroke="#000" stroke-width="0.1" vector-effect="non-scaling-stroke">1</text>
<text transform="matrix(2.0329 0.0006 0 1.8763 -84.199 23.596)" font-size="10" stroke="#000" stroke-width="0.14" vector-effect="non-scaling-stroke">]</text>
</g>
<path d="M522.7,18.5H639.3Q642.5,18.5 642.5,21.7V99.3Q642.5,102.5 639.3,102.5H522.7Q519.5,102.5 519.5,99.3V21.7Q519.5,18.5 522.7,18.5Z" fill="#fff" fill-opacity="0.8" stroke="#ccc" stroke-opacity="0.8" stroke-width="1"/>
<g fill="none" stroke-width="1.5">
<path d="M525.8,31H558.1" stroke="#800080" stroke-linecap="square"/>
<path d="M525.8,58H558.1" stroke="#0000ff" stroke-dasharray="5.55 2.4"/>
<path d="M525.8,83H558.1" stroke="#008000" stroke-dasharray="5.55 2.4"/>
</g>
<g filter="url(#gs)">
<clipPath id="cp2"><rect x="569.00" y="28.00" width="16.00" height="14.74"/></clipPath><g clip-path="url(#cp2)"><text transform="matrix(1.5480 0.0006 0 1.5955 571.108 36.429)" font-size="10" font-style="italic" stroke="#000" stroke-width="0.16" vector-effect="non-scaling-stroke">ψ</text></g>
<text transform="matrix(1.2460 0.0006 0 1.0728 581.197 38.774)" font-size="10">poly</text>
<clipPath id="cp3"><rect x="569.00" y="55.00" width="16.00" height="14.74"/></clipPath><g clip-path="url(#cp3)"><text transform="matrix(1.5480 0.0006 0 1.5955 571.108 63.429)" font-size="10" font-style="italic" stroke="#000" stroke-width="0.16" vector-effect="non-scaling-stroke">ψ</text></g>
<text transform="matrix(1.2553 0.0006 0 1.0952 581.166 65.893)" font-size="10">mono</text>
<clipPath id="cp4"><rect x="569.00" y="79.00" width="16.00" height="14.74"/></clipPath><g clip-path="url(#cp4)"><text transform="matrix(1.5480 0.0006 0 1.5955 571.108 87.429)" font-size="10" font-style="italic" stroke="#000" stroke-width="0.16" vector-effect="non-scaling-stroke">ψ</text></g>
<text transform="matrix(1.2460 0.0006 0 1.0728 581.197 89.774)" font-size="10">poly</text>
<text transform="matrix(1.1921 0.0006 0 1.0346 605.049 89.546)" font-size="10" stroke="#000" stroke-width="0.1" vector-effect="non-scaling-stroke">,</text>
<text transform="matrix(1.3152 0.0006 0 1.0621 610.088 89.696)" font-size="10">high</text>
</g>
</svg></body></html>
